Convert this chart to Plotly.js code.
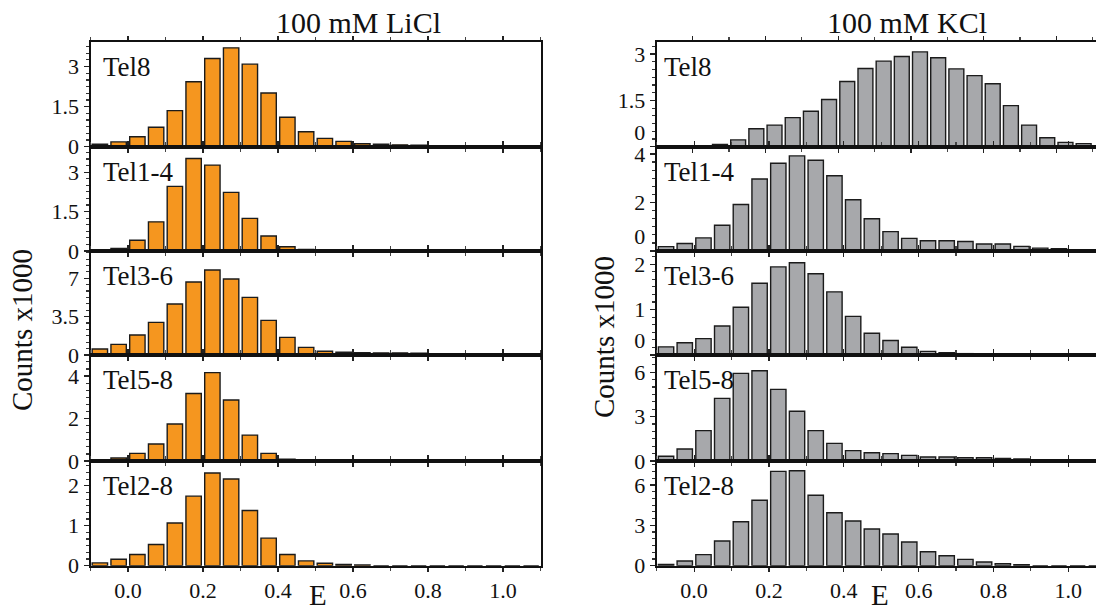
<!DOCTYPE html>
<html>
<head>
<meta charset="utf-8">
<script src="https://cdn.plot.ly/plotly-3.0.1.min.js"></script>
<style>html,body{margin:0;padding:0;background:#fff;}#chart{width:1096px;height:613px;}</style>
</head>
<body>
<div id="chart"></div>
<script>
// ---- data ----
const E_BINS = [-0.075, -0.025, 0.025, 0.075, 0.125, 0.175, 0.225, 0.275, 0.325, 0.375, 0.425, 0.475,
                0.525, 0.575, 0.625, 0.675, 0.725, 0.775, 0.825, 0.875, 0.925, 0.975, 1.025, 1.075];
const PANEL_NAMES = ['Tel8', 'Tel1-4', 'Tel3-6', 'Tel5-8', 'Tel2-8'];
const COLUMN_TITLES = ['100 mM LiCl', '100 mM KCl'];
const X_TICK_VALS = [0, 0.2, 0.4, 0.6, 0.8, 1.0];
const X_TICK_TEXT = ['0.0', '0.2', '0.4', '0.6', '0.8', '1.0'];

// LiCl (counts x1000)
const li_Tel8   = [0.09,0.18,0.37,0.73,1.35,2.43,3.30,3.70,3.09,2.01,1.10,0.56,0.31,0.20,0.11,0.09,0.07,0.06,0.04,0.02,0,0,0,0];
const li_Tel1_4 = [0.02,0.10,0.41,1.11,2.46,3.52,3.27,2.23,1.24,0.57,0.16,0.06,0,0,0,0,0,0,0,0,0,0,0,0];
const li_Tel3_6 = [0.55,0.97,1.82,2.98,4.65,6.66,7.76,6.93,5.26,3.16,1.61,0.70,0.34,0.25,0.22,0.19,0.19,0.16,0.13,0.10,0,0,0,0];
const li_Tel5_8 = [0.05,0.14,0.36,0.80,1.74,3.18,4.16,2.87,1.22,0.36,0.08,0,0,0,0,0,0,0,0,0,0,0,0,0];
const li_Tel2_8 = [0.07,0.16,0.28,0.53,1.07,1.74,2.32,2.17,1.38,0.69,0.28,0.12,0.06,0.03,0.02,0,0,0,0,0,0,0,0,0];

// KCl (counts x1000)
const k_Tel8   = [0,0,0,0.07,0.22,0.58,0.70,0.94,1.15,1.53,2.11,2.53,2.77,2.92,3.07,2.88,2.52,2.30,2.04,1.33,0.70,0.29,0.14,0.10];
const k_Tel1_4 = [0.18,0.31,0.54,1.06,1.92,2.97,3.62,3.92,3.74,3.10,2.11,1.33,0.80,0.52,0.42,0.42,0.39,0.29,0.29,0.19,0.12,0.09,0,0];
const k_Tel3_6 = [0.18,0.27,0.36,0.64,1.05,1.58,1.94,2.03,1.79,1.39,0.85,0.48,0.32,0.17,0.08,0.05,0.03,0.02,0,0,0,0,0,0];
const k_Tel5_8 = [0.32,0.81,2.05,4.23,5.92,6.10,4.84,3.36,2.05,1.19,0.70,0.56,0.50,0.38,0.27,0.27,0.22,0.22,0.18,0.14,0.05,0,0,0];
const k_Tel2_8 = [0.10,0.35,0.82,1.83,3.27,4.86,7.01,7.06,5.23,3.94,3.32,2.73,2.36,1.76,1.04,0.74,0.47,0.27,0.15,0.07,0,0,0,0];

const LI_SERIES = [li_Tel8, li_Tel1_4, li_Tel3_6, li_Tel5_8, li_Tel2_8];
const K_SERIES  = [k_Tel8, k_Tel1_4, k_Tel3_6, k_Tel5_8, k_Tel2_8];

// y-axis ticks per panel
const LI_YTICKS = [[0,1.5,3],[0,1.5,3],[0,3.5,7],[0,2,4],[0,1,2]];
const K_YTICKS  = [[0,1.5,3],[0,2,4],[0,1,2],[0,3,6],[0,3,6]];

// ---- styling / layout ----
const W = 1096, H = 613;
const LI_YMAX = [3.93, 3.97, 9.49, 4.99, 2.62];
const K_YMAX  = [3.40, 4.30, 2.29, 7.16, 7.78];
const ROW_EDGES = [41.7, 146.7, 251, 355, 461, 565.7]; // px from top
const COLS = [
  {x0: 90.5, x1: 540.5, xr: [[-0.1,1.1],[-0.1,1.1],[-0.1,1.1],[-0.1,1.1],[-0.1,1.1]], color: '#F5961F',
   series: LI_SERIES, ymax: LI_YMAX, yticks: LI_YTICKS, labelX: 0.024, raiseZeroRows: []},
  {x0: 656.7, x1: 1096, xr: [[-0.099,1.109],[-0.1,1.074],[-0.1,1.074],[-0.1,1.074],[-0.1,1.074]], color: '#A7A8AB',
   series: K_SERIES, ymax: K_YMAX, yticks: K_YTICKS, labelX: 0.013, raiseZeroRows: [0, 1, 2]}
];
const FONT = 'Liberation Serif, Times New Roman, serif';
const TICK_SIZE = 22;

const traces = [];
const layout = {
  width: W, height: H,
  margin: {l: 0, r: 0, t: 0, b: 0},
  paper_bgcolor: '#ffffff', plot_bgcolor: '#ffffff',
  showlegend: false, bargap: 0.18,
  font: {family: FONT, color: '#111', size: TICK_SIZE},
  annotations: []
};

COLS.forEach((col, c) => {
  for (let r = 0; r < 5; r++) {
    const idx = c * 5 + r + 1;
    const xn = 'x' + idx, yn = 'y' + idx;
    const xk = 'xaxis' + (idx === 1 ? '' : idx), yk = 'yaxis' + (idx === 1 ? '' : idx);
    traces.push({
      type: 'bar', x: E_BINS, y: col.series[r], xaxis: xn, yaxis: yn,
      marker: {color: col.color, line: {color: '#1b1b1b', width: 1.4}},
      hoverinfo: 'x+y'
    });
    const yt = col.yticks[r];
    const raise = col.raiseZeroRows.indexOf(r) >= 0;
    const ytext = yt.map(v => (v === 0 && raise) ? '0<br>\u00a0' : String(v));
    layout[xk] = {
      domain: [col.x0 / W, col.x1 / W], range: col.xr[r], anchor: yn,
      showline: true, linecolor: '#111', linewidth: 2, mirror: 'ticks',
      ticks: 'outside', ticklen: 4, tickwidth: 1.2, tickcolor: '#222',
      tickmode: 'array', tickvals: X_TICK_VALS, ticktext: X_TICK_TEXT,
      showticklabels: r === 4, tickfont: {size: TICK_SIZE, family: FONT},
      minor: {dtick: 0.1, tick0: 0, ticks: 'outside', ticklen: 3, tickcolor: '#444'},
      showgrid: false, zeroline: false, fixedrange: true
    };
    layout[yk] = {
      domain: [1 - ROW_EDGES[r + 1] / H, 1 - ROW_EDGES[r] / H], range: [0, col.ymax[r]], anchor: xn,
      showline: true, linecolor: '#111', linewidth: 2, mirror: true,
      ticks: 'outside', ticklen: 5, tickwidth: 1.2, tickcolor: '#222',
      tickmode: 'array', tickvals: yt, ticktext: ytext,
      tickfont: {size: TICK_SIZE, family: FONT},
      minor: {dtick: yt[1] / 6, tick0: 0, ticks: 'outside', ticklen: 3, tickcolor: '#333'},
      showgrid: false, zeroline: false, fixedrange: true
    };
    layout.annotations.push({
      text: PANEL_NAMES[r], xref: xn + ' domain', yref: yn + ' domain',
      x: col.labelX, y: 0.76, xanchor: 'left', yanchor: 'middle', showarrow: false,
      font: {size: 27, family: FONT, color: '#111'}
    });
  }
  // column title
  layout.annotations.push({
    text: COLUMN_TITLES[c], xref: 'paper', yref: 'paper',
    x: c === 0 ? 358 / W : 907 / W, y: 1 - 22 / H, xanchor: 'center', yanchor: 'middle',
    showarrow: false, font: {size: 30, family: FONT, color: '#111'}
  });
  // y title
  layout.annotations.push({
    text: 'Counts x1000', xref: 'paper', yref: 'paper', textangle: -90,
    x: c === 0 ? 22 / W : 604 / W, y: 1 - (c === 0 ? 330 : 337) / H,
    xanchor: 'center', yanchor: 'middle', showarrow: false,
    font: {size: 29, family: FONT, color: '#111'}
  });
  // x title
  layout.annotations.push({
    text: 'E', xref: 'paper', yref: 'paper',
    x: c === 0 ? 318 / W : 880 / W, y: 0,
    xanchor: 'center', yanchor: 'bottom', showarrow: false,
    font: {size: 29, family: FONT, color: '#111'}
  });
});

Plotly.newPlot('chart', traces, layout, {displayModeBar: false, staticPlot: true});
</script>
</body>
</html>
